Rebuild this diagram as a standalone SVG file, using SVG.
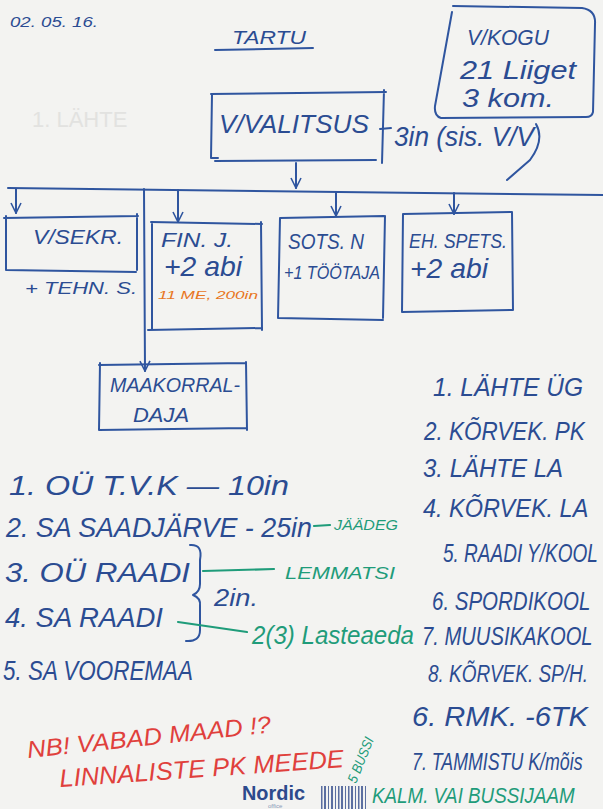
<svg xmlns="http://www.w3.org/2000/svg" width="603" height="809" viewBox="0 0 603 809">
<defs>
<marker id="v" viewBox="0 0 12 12" refX="11" refY="6" markerWidth="12" markerHeight="12" markerUnits="userSpaceOnUse" orient="auto">
<path d="M1,1 L11,6 L1,11" fill="none" stroke="#2f559f" stroke-width="1.6"/>
</marker>
</defs>
<style>
.ink{fill:none;stroke:#2f559f;stroke-width:2;stroke-linecap:round;stroke-linejoin:round}
.g{fill:none;stroke:#1f9c7a;stroke-width:2.2;stroke-linecap:round}
text{font-family:"Liberation Sans",Arial,sans-serif;font-style:italic}
.b{fill:#2b4c92}
.gt{fill:#1f9c7a}
.r{fill:#e0403c}
.o{fill:#e8761e}
</style>
<rect width="603" height="809" fill="#f3f3f1"/>
<text x="32" y="127" font-size="22" fill="#e2e2e0" style="font-style:normal">1. LÄHTE</text>

<text class="b" x="10" y="27" font-size="14" textLength="88" lengthAdjust="spacingAndGlyphs">02. 05. 16.</text>

<g id="title">
<text class="b" x="232" y="44" font-size="18" textLength="74" lengthAdjust="spacingAndGlyphs">TARTU</text>
<path class="ink" d="M215,50 L313,48"/>
</g>

<g id="volikogu">
<path class="ink" d="M453,6 L582,8 Q596,10 595,24 L593,112 Q592,117 586,117 L441,118 Q434,116 435,106 L452,12"/>
<text class="b" x="467" y="45" font-size="22" textLength="82" lengthAdjust="spacingAndGlyphs">V/KOGU</text>
<text class="b" x="460" y="79" font-size="26" textLength="116" lengthAdjust="spacingAndGlyphs">21 Liiget</text>
<text class="b" x="462" y="107" font-size="26" textLength="92" lengthAdjust="spacingAndGlyphs">3 kom.</text>
</g>

<g id="valitsus">
<path class="ink" d="M211,94 L386,92 M212,94 L211,158 L218,158 M215,161 L376,160 M384,90 L382,163"/>
<text class="b" x="219" y="133" font-size="25" textLength="150" lengthAdjust="spacingAndGlyphs">V/VALITSUS</text>
<path class="ink" d="M380,129 L391,128"/>
<text class="b" x="394" y="146" font-size="27" textLength="140" lengthAdjust="spacingAndGlyphs">3in (sis. V/V</text>
<path class="ink" d="M536,124 Q545,140 530,160 L507,180"/>
</g>

<g id="connectors">
<path class="ink" d="M296,163 L296,188" marker-end="url(#v)"/>
<path class="ink" d="M8,188 L603,195"/>
<path class="ink" d="M16,189 L16,213" marker-end="url(#v)"/>
<path class="ink" d="M178,190 L178,222" marker-end="url(#v)"/>
<path class="ink" d="M336,192 L336,216" marker-end="url(#v)"/>
<path class="ink" d="M454,193 L454,214" marker-end="url(#v)"/>
<path class="ink" d="M144,189 L145,371" marker-end="url(#v)"/>
</g>

<g id="sekr">
<path class="ink" d="M4,218 L138,216 M6,216 L6,270 L136,272 M137,214 L137,270"/>
<text class="b" x="33" y="244" font-size="21" textLength="90" lengthAdjust="spacingAndGlyphs">V/SEKR.</text>
<text class="b" x="25" y="294" font-size="17" textLength="112" lengthAdjust="spacingAndGlyphs">+ TEHN. S.</text>
</g>

<g id="fin">
<path class="ink" d="M151,222 L262,224 M152,222 L152,330 M148,330 L262,328 M261,222 L262,330"/>
<text class="b" x="161" y="247" font-size="21" textLength="72" lengthAdjust="spacingAndGlyphs">FIN. J.</text>
<text class="b" x="164" y="276" font-size="28" textLength="78" lengthAdjust="spacingAndGlyphs">+2 abi</text>
<text class="o" x="158" y="299" font-size="11" textLength="100" lengthAdjust="spacingAndGlyphs">11 ME, 200in</text>
</g>

<g id="sots">
<path class="ink" d="M280,218 L384,216 M280,218 L278,318 M278,318 L383,320 M385,216 L383,318"/>
<text class="b" x="288" y="249" font-size="22" textLength="76" lengthAdjust="spacingAndGlyphs">SOTS. N</text>
<text class="b" x="284" y="279" font-size="19" textLength="96" lengthAdjust="spacingAndGlyphs">+1 TÖÖTAJA</text>
</g>

<g id="ehspets">
<path class="ink" d="M403,214 L512,212 M403,214 L402,312 M402,312 L512,310 M512,212 L513,310"/>
<text class="b" x="409" y="248" font-size="21" textLength="98" lengthAdjust="spacingAndGlyphs">EH. SPETS.</text>
<text class="b" x="410" y="278" font-size="28" textLength="78" lengthAdjust="spacingAndGlyphs">+2 abi</text>
</g>

<g id="maakorraldaja">
<path class="ink" d="M99,365 L246,363 M100,363 L99,430 M99,430 L247,428 M246,362 L247,430"/>
<text class="b" x="110" y="392" font-size="21" textLength="130" lengthAdjust="spacingAndGlyphs">MAAKORRAL-</text>
<text class="b" x="133" y="422" font-size="21" textLength="56" lengthAdjust="spacingAndGlyphs">DAJA</text>
</g>

<g id="left-list">
<text class="b" x="9" y="495" font-size="28" textLength="280" lengthAdjust="spacingAndGlyphs">1. OÜ T.V.K — 10in</text>
<text class="b" x="6" y="537" font-size="28" textLength="306" lengthAdjust="spacingAndGlyphs">2. SA SAADJÄRVE - 25in</text>
<path class="g" d="M314,526 L330,525"/>
<text class="gt" x="334" y="530" font-size="15" textLength="64" lengthAdjust="spacingAndGlyphs">JÄÄDEG</text>
<text class="b" x="5" y="582" font-size="28" textLength="185" lengthAdjust="spacingAndGlyphs">3. OÜ RAADI</text>
<text class="b" x="5" y="627" font-size="28" textLength="158" lengthAdjust="spacingAndGlyphs">4. SA RAADI</text>
<text class="b" x="3" y="680" font-size="28" textLength="190" lengthAdjust="spacingAndGlyphs">5. SA VOOREMAA</text>
<path class="ink" d="M190,545 Q203,544 200,560 L200,584 Q200,592 193,595 Q201,598 200,606 L200,630 Q200,642 186,641"/>
<text class="b" x="214" y="606" font-size="24" textLength="44" lengthAdjust="spacingAndGlyphs">2in.</text>
<path class="g" d="M203,571 L274,569"/>
<text class="gt" x="285" y="579" font-size="17" textLength="110" lengthAdjust="spacingAndGlyphs">LEMMATSI</text>
<path class="g" d="M178,622 L247,632"/>
<text class="gt" x="252" y="644" font-size="25" textLength="162" lengthAdjust="spacingAndGlyphs">2(3) Lasteaeda</text>
</g>

<g id="right-list">
<text class="b" x="433" y="396" font-size="25" textLength="150" lengthAdjust="spacingAndGlyphs">1. LÄHTE ÜG</text>
<text class="b" font-size="22.5" transform="translate(424 440) scale(1 1.15)">2. KÕRVEK. PK</text>
<text class="b" x="423" y="477" font-size="26" textLength="140" lengthAdjust="spacingAndGlyphs">3. LÄHTE LA</text>
<text class="b" font-size="23.5" transform="translate(423 517) scale(1 1.1)">4. KÕRVEK. LA</text>
<text class="b" font-size="19" transform="translate(443 562) scale(1 1.35)">5. RAADI Y/KOOL</text>
<text class="b" font-size="20.5" transform="translate(432 610) scale(1 1.22)">6. SPORDIKOOL</text>
<text class="b" font-size="20.2" transform="translate(422 645) scale(1 1.24)">7. MUUSIKAKOOL</text>
<text class="b" font-size="19" transform="translate(428 682) scale(1 1.3)">8. KÕRVEK. SP/H.</text>
<text class="b" x="412" y="726" font-size="28" textLength="176" lengthAdjust="spacingAndGlyphs">6. RMK. -6TK</text>
<text class="b" font-size="17.8" transform="translate(412 770) scale(1 1.35)">7. TAMMISTU K/mõis</text>
<text class="gt" font-size="18.8" transform="translate(372 803) scale(1 1.15)">KALM. VAI BUSSIJAAM</text>
<text class="gt" x="356" y="784" font-size="14" transform="rotate(-68 356 784)" textLength="48" lengthAdjust="spacingAndGlyphs">5 BUSSI</text>
</g>

<g id="note">
<text class="r" x="28" y="758" font-size="24" transform="rotate(-6 28 758)" textLength="245" lengthAdjust="spacingAndGlyphs">NB! VABAD MAAD !?</text>
<text class="r" x="60" y="787" font-size="25" transform="rotate(-4 60 787)" textLength="285" lengthAdjust="spacingAndGlyphs">LINNALISTE PK MEEDE</text>
</g>

<g id="logo">
<text x="242" y="800" font-size="20" font-weight="bold" fill="#2c4a8c" style="font-style:normal" textLength="63" lengthAdjust="spacingAndGlyphs">Nordic</text>
<text x="268" y="808" font-size="6" fill="#8a9ab8" style="font-style:normal">office</text>
<g fill="#5c6fa0">
<rect x="321" y="786" width="1.5" height="23"/><rect x="324" y="786" width="2" height="23"/><rect x="328" y="786" width="1" height="23"/><rect x="331" y="786" width="2" height="23"/><rect x="335" y="786" width="1" height="23"/><rect x="338" y="786" width="1.5" height="23"/><rect x="341" y="786" width="2" height="23"/><rect x="345" y="786" width="1" height="23"/><rect x="348" y="786" width="1.5" height="23"/><rect x="351" y="786" width="2" height="23"/><rect x="355" y="786" width="1" height="23"/><rect x="358" y="786" width="1.5" height="23"/><rect x="361" y="786" width="2" height="23"/><rect x="365" y="786" width="1" height="23"/>
</g>
</g>
</svg>
